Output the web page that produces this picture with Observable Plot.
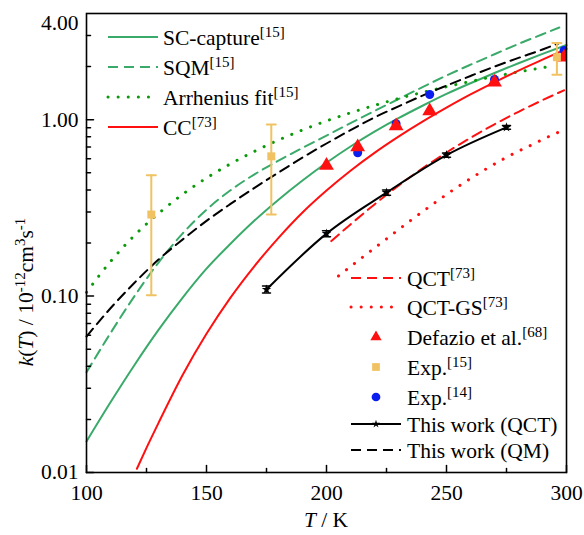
<!DOCTYPE html>
<html><head><meta charset="utf-8">
<script src="https://cdn.jsdelivr.net/npm/d3@7"></script>
<script src="https://cdn.jsdelivr.net/npm/@observablehq/plot@0.6"></script>
<style>body{margin:0;background:#fff}#chart{width:584px;height:535px}</style>
</head><body><div id="chart"></div>
<script>
// ---------- data ----------
const T_grid = [100,110,120,130,140,150,160,170,180,190,200,210,220,230,240,250,260,270,280,290,300];
const k_sc   = [0.015,0.025,0.0407,0.0643,0.0977,0.143,0.198,0.268,0.352,0.452,0.57,0.705,0.855,1.02,1.2,1.4,1.61,1.84,2.09,2.36,2.65];

const T_sqm = [100,110,120,130,140,150,160,170,180,190,200,210,220,230,240,250,260,270,280,290,297];
const k_sqm = [0.037,0.0617,0.100,0.155,0.226,0.309,0.398,0.49,0.586,0.692,0.813,0.955,1.12,1.31,1.53,1.78,2.05,2.35,2.69,3.05,3.33];

const T_arr = [100,110,120,130,140,150,160,170,180,190,200,210,220,230,240,250,260,270,280,290,295];
const k_arr = [0.105,0.157,0.221,0.294,0.377,0.467,0.562,0.662,0.767,0.875,0.984,1.094,1.205,1.318,1.429,1.538,1.648,1.758,1.866,1.972,2.023];

const T_cc = [121,125,130,140,150,160,170,180,190,200,210,220,230,240,250,260,270,280,290,300];
const k_cc = [0.0105,0.0138,0.0191,0.0356,0.0611,0.098,0.148,0.214,0.298,0.397,0.514,0.649,0.802,0.975,1.17,1.39,1.63,1.90,2.19,2.52];

const T_qct73 = [202,210,220,230,240,250,260,270,280,290,299];
const k_qct73 = [0.205,0.255,0.331,0.423,0.530,0.652,0.789,0.942,1.109,1.291,1.469];

const T_qctgs = [205,215,225,235,245,255,265,275,285,295,299];
const k_qctgs = [0.130,0.166,0.211,0.268,0.337,0.419,0.511,0.612,0.715,0.83,0.875];

const T_qm = [100,110,120,130,140,150,160,170,180,190,200,210,220,230,240,250,260,270,280,290,297];
const k_qm = [0.059,0.0853,0.119,0.161,0.209,0.267,0.333,0.411,0.502,0.610,0.733,0.873,1.03,1.19,1.37,1.56,1.77,2.0,2.24,2.5,2.72];

const T_this = [175,200,225,250,275];
const k_this = [0.109,0.226,0.386,0.63,0.905];
const e_this = [0.005,0.009,0.013,0.018,0.022];

const T_def = [200,213,229,243,270,299];
const k_def = [0.55,0.70,0.92,1.12,1.63,2.26];

const T_exp14 = [213,229,243,270,299];
const k_exp14 = [0.65,0.95,1.39,1.69,2.47];

const T_exp15  = [127,177,296];
const k_exp15  = [0.29,0.62,2.26];
const lo_exp15 = [0.101,0.29,1.80];
const hi_exp15 = [0.485,0.94,2.72];

const xTicksMajor = [100,150,200,250,300];
const xTicksMinor = [125,175,225,275];
const yTicksMajor = [0.01,0.1,1];
const yTicksMinor = [0.02,0.03,0.04,0.05,0.06,0.07,0.08,0.09,0.2,0.3,0.4,0.5,0.6,0.7,0.8,0.9,2,3];
const yTickTop = [4];

// ---------- styles ----------
const cGreen = "#3aaa6a", cDarkGreen = "#0a9a0a", cRed = "#ff1010", cGold = "#f0c262", cBlue = "#0a1ef0";
const FONT = "'Liberation Serif','Times New Roman',serif";
const FS = 21.5, FS_SUP = 15;

const zip = (T, k) => T.map((t, i) => ({T: t, k: k[i]}));
const sc = zip(T_grid, k_sc), sqm = zip(T_sqm, k_sqm), arr = zip(T_arr, k_arr), cc = zip(T_cc, k_cc);
const qct73 = zip(T_qct73, k_qct73), qctgs = zip(T_qctgs, k_qctgs), qm = zip(T_qm, k_qm);
const thisw = T_this.map((t, i) => ({T: t, k: k_this[i], lo: k_this[i] - e_this[i], hi: k_this[i] + e_this[i]}));
const def = zip(T_def, k_def), exp14 = zip(T_exp14, k_exp14);
const exp15 = T_exp15.map((t, i) => ({T: t, k: k_exp15[i], lo: lo_exp15[i], hi: hi_exp15[i]}));

const lineShape = {draw(ctx, l) { ctx.moveTo(0, 0); ctx.lineTo(0, -l); }};
const DASH = "10,6", DOT = "0.1,10";
const CURVE = "monotone-x";

const plot = Plot.plot({
  width: 584, height: 535,
  marginLeft: 86, marginRight: 18, marginTop: 13, marginBottom: 63,
  x: {domain: [100, 300]},
  y: {type: "log", domain: [0.01, 4]},
  style: {fontFamily: FONT, fontSize: FS + "px", background: "white", color: "black"},
  marks: [
    // curves
    Plot.line(sc,    {x: "T", y: "k", stroke: cGreen, strokeWidth: 2, curve: CURVE}),
    Plot.line(sqm,   {x: "T", y: "k", stroke: cGreen, strokeWidth: 2, strokeDasharray: DASH, curve: CURVE}),
    Plot.line(arr,   {x: "T", y: "k", stroke: cDarkGreen, strokeWidth: 3, strokeDasharray: DOT, strokeLinecap: "round", curve: CURVE}),
    Plot.line(qm,    {x: "T", y: "k", stroke: "black", strokeWidth: 2, strokeDasharray: DASH, curve: CURVE}),
    Plot.line(cc,    {x: "T", y: "k", stroke: cRed, strokeWidth: 2, curve: CURVE}),
    Plot.line(qct73, {x: "T", y: "k", stroke: cRed, strokeWidth: 2, strokeDasharray: DASH, curve: CURVE}),
    Plot.line(qctgs, {x: "T", y: "k", stroke: cRed, strokeWidth: 3, strokeDasharray: DOT, strokeLinecap: "round", curve: CURVE}),
    // this work (QCT)
    Plot.line(thisw, {x: "T", y: "k", stroke: "black", strokeWidth: 2, curve: CURVE}),
    Plot.ruleX(thisw, {x: "T", y1: "lo", y2: "hi", stroke: "black", strokeWidth: 1.5}),
    Plot.vector(thisw, {x: "T", y: "lo", rotate: 90, length: 8, anchor: "middle", shape: lineShape, stroke: "black", strokeWidth: 1.5}),
    Plot.vector(thisw, {x: "T", y: "hi", rotate: 90, length: 8, anchor: "middle", shape: lineShape, stroke: "black", strokeWidth: 1.5}),
    Plot.dot(thisw,  {x: "T", y: "k", symbol: "star", r: 3, fill: "black"}),
    // experiments
    Plot.dot(exp14,  {x: "T", y: "k", symbol: "circle", r: 4.5, fill: cBlue, clip: true}),
    Plot.dot(def,    {x: "T", y: "k", symbol: "triangle", r: 5.5, fill: cRed, clip: true}),
    Plot.ruleX(exp15, {x: "T", y1: "lo", y2: "hi", stroke: cGold, strokeWidth: 2}),
    Plot.vector(exp15, {x: "T", y: "lo", rotate: 90, length: 9, anchor: "middle", shape: lineShape, stroke: cGold, strokeWidth: 2}),
    Plot.vector(exp15, {x: "T", y: "hi", rotate: 90, length: 9, anchor: "middle", shape: lineShape, stroke: cGold, strokeWidth: 2}),
    Plot.dot(exp15,  {x: "T", y: "k", symbol: "square", r: 4.5, fill: cGold}),
    // axes
    Plot.frame({stroke: "black", strokeWidth: 1.6}),
    Plot.vector(xTicksMajor, {x: d => d, frameAnchor: "bottom", rotate: 0, length: 7, anchor: "start", shape: lineShape, stroke: "black", strokeWidth: 1.5}),
    Plot.vector(xTicksMinor, {x: d => d, frameAnchor: "bottom", rotate: 0, length: 4, anchor: "start", shape: lineShape, stroke: "black", strokeWidth: 1.5}),
    Plot.vector(yTicksMajor, {y: d => d, frameAnchor: "left", rotate: 90, length: 7, anchor: "start", shape: lineShape, stroke: "black", strokeWidth: 1.5}),
    Plot.vector(yTicksMinor, {y: d => d, frameAnchor: "left", rotate: 90, length: 4, anchor: "start", shape: lineShape, stroke: "black", strokeWidth: 1.5}),
    Plot.axisX({ticks: xTicksMajor, tickSize: 0, tickPadding: 12, label: null, tickFormat: d3.format("d")}),
    Plot.axisY({ticks: yTicksMajor, tickSize: 0, tickPadding: 8, label: null, tickFormat: d3.format(".2f")}),
    Plot.axisY({ticks: yTickTop, tickSize: 0, tickPadding: 8, label: null, tickFormat: d3.format(".2f"), dy: 10})
  ]
});

document.getElementById("chart").appendChild(plot);

// ---------- legend & axis titles (rich text with super-scripts) ----------
const svg = d3.select(plot);
function richText(g, x, y, parts, opts = {}) {
  const t = g.append("text").attr("x", x).attr("y", y)
    .attr("font-family", FONT).attr("font-size", opts.size || FS).attr("fill", "black")
    .attr("text-anchor", opts.anchor || "start");
  if (opts.transform) t.attr("transform", opts.transform);
  let raised = false;
  for (const p of parts) {
    const s = t.append("tspan").text(p.t);
    if (p.italic) s.attr("font-style", "italic");
    if (p.sup && !raised) { s.attr("dy", -8).attr("font-size", FS_SUP); raised = true; }
    else if (p.sup) { s.attr("font-size", FS_SUP); }
    else if (!p.sup && raised) { s.attr("dy", 8); raised = false; }
  }
  return t;
}

const legendTL = [
  {name: "SC-capture", ref: "[15]", stroke: cGreen, w: 2, dash: null},
  {name: "SQM", ref: "[15]", stroke: cGreen, w: 2, dash: DASH},
  {name: "Arrhenius fit", ref: "[15]", stroke: cDarkGreen, w: 3, dash: DOT},
  {name: "CC", ref: "[73]", stroke: cRed, w: 2, dash: null}
];
const legendBR = [
  {name: "QCT", ref: "[73]", kind: "line", stroke: cRed, w: 2, dash: DASH},
  {name: "QCT-GS", ref: "[73]", kind: "line", stroke: cRed, w: 3, dash: DOT},
  {name: "Defazio et al.", ref: "[68]", kind: "triangle", fill: cRed},
  {name: "Exp.", ref: "[15]", kind: "square", fill: cGold},
  {name: "Exp.", ref: "[14]", kind: "circle", fill: cBlue},
  {name: "This work (QCT)", ref: "", kind: "linedot", stroke: "black", w: 2},
  {name: "This work (QM)", ref: "", kind: "line", stroke: "black", w: 2, dash: DASH}
];

const gl = svg.append("g");
legendTL.forEach((d, i) => {
  const y = 37 + i * 30;
  gl.append("line").attr("x1", 108).attr("x2", 158).attr("y1", y).attr("y2", y)
    .attr("stroke", d.stroke).attr("stroke-width", d.w)
    .attr("stroke-dasharray", d.dash).attr("stroke-linecap", d.dash === DOT ? "round" : null);
  richText(gl, 163, y + 7.5, [{t: d.name}, {t: d.ref, sup: true}]);
});
const brY = [278, 307, 337, 367, 397, 424, 450];
legendBR.forEach((d, i) => {
  const y = brY[i];
  if (d.kind.startsWith("line")) {
    gl.append("line").attr("x1", 351).attr("x2", 401).attr("y1", y).attr("y2", y)
      .attr("stroke", d.stroke).attr("stroke-width", d.w)
      .attr("stroke-dasharray", d.dash).attr("stroke-linecap", d.dash === DOT ? "round" : null);
    if (d.kind === "linedot") gl.append("path").attr("d", d3.symbol(d3.symbolStar, 20)()).attr("transform", `translate(376,${y})`).attr("fill", "black");
  } else {
    const sym = {triangle: d3.symbolTriangle, square: d3.symbolSquare, circle: d3.symbolCircle}[d.kind];
    const size = {triangle: 55, square: 60, circle: 60}[d.kind];
    gl.append("path").attr("d", d3.symbol(sym, size)()).attr("transform", `translate(376,${y})`).attr("fill", d.fill);
  }
  const parts = [{t: d.name}];
  if (d.ref) parts.push({t: d.ref, sup: true});
  richText(gl, 407, y + 7.5, parts);
});

// axis titles
richText(gl, 326, 527, [{t: "T", italic: true}, {t: " / K"}], {anchor: "middle"});
richText(gl, 0, 0, [{t: "k", italic: true}, {t: "("}, {t: "T", italic: true}, {t: ") / 10"}, {t: "-12", sup: true}, {t: "cm"}, {t: "3", sup: true}, {t: "s"}, {t: "-1", sup: true}],
  {anchor: "middle", transform: "translate(33,292) rotate(-90)"});
</script>
</body></html>
